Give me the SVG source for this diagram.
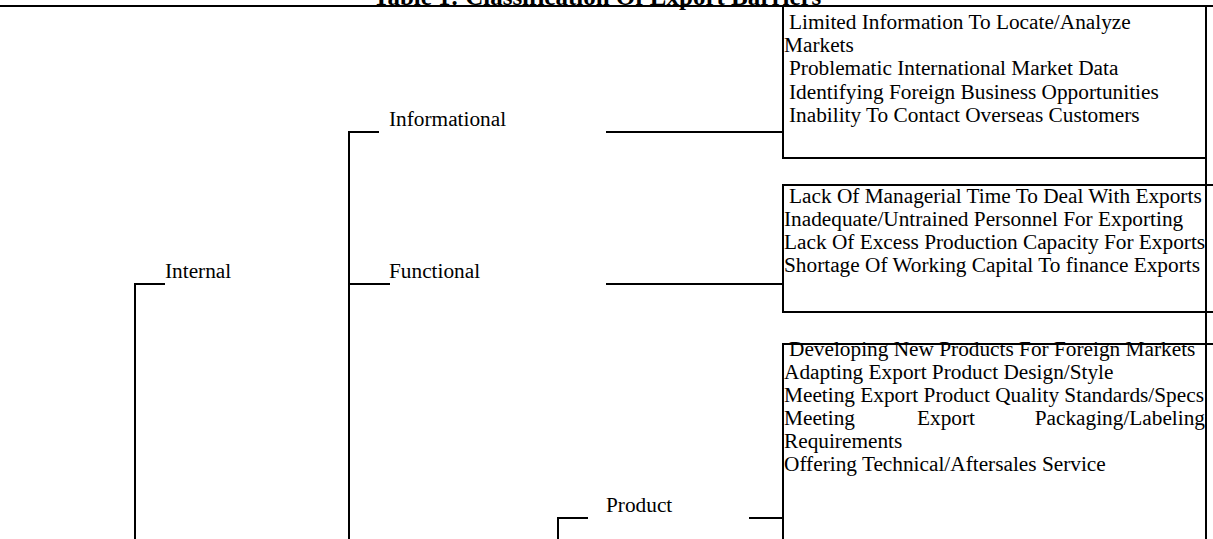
<svg xmlns="http://www.w3.org/2000/svg" width="1213" height="539" viewBox="0 0 1213 539">
<style>
text{font-family:"Liberation Serif","Times New Roman",serif;font-size:21.3px;fill:#000}
.title{font-weight:bold;font-size:25px}
.ln{stroke:#000;stroke-width:2;fill:none}
</style>
<rect width="1213" height="539" fill="#fff"/>
<text class="title" x="373" y="5">Table 1: Classification Of Export Barriers</text>
<g id="connectors">
<line class="ln" x1="0" y1="6" x2="1213" y2="6"/>
<polyline class="ln" points="135,539 135,284 165,284"/>
<polyline class="ln" points="349,539 349,132 379,132"/>
<line class="ln" x1="349" y1="284" x2="390" y2="284"/>
<line class="ln" x1="606" y1="132" x2="783" y2="132"/>
<line class="ln" x1="606" y1="284" x2="783" y2="284"/>
<polyline class="ln" points="558,539 558,518 588,518"/>
<line class="ln" x1="749" y1="518" x2="783" y2="518"/>
</g>
<g id="internal"><text x="165" y="278">Internal</text></g>
<g id="informational"><text x="389" y="126">Informational</text></g>
<g id="functional"><text x="389" y="278">Functional</text></g>
<g id="product"><text x="606" y="512">Product</text></g>
<g id="box-informational">
<polyline class="ln" points="783,6 783,158 1206,158"/>
<text x="789" y="28.5">Limited Information To Locate/Analyze</text>
<text x="784" y="52">Markets</text>
<text x="789" y="75">Problematic International Market Data</text>
<text x="789" y="98.5">Identifying Foreign Business Opportunities</text>
<text x="789" y="122">Inability To Contact Overseas Customers</text>
</g>
<g id="box-functional">
<polyline class="ln" points="1213,185 783,185 783,312 1213,312"/>
<text x="789" y="203">Lack Of Managerial Time To Deal With Exports</text>
<text x="784" y="226">Inadequate/Untrained Personnel For Exporting</text>
<text x="784" y="249">Lack Of Excess Production Capacity For Exports</text>
<text x="784" y="272">Shortage Of Working Capital To finance Exports</text>
</g>
<g id="box-product">
<polyline class="ln" points="783,539 783,344 1213,344"/>
<text x="789" y="356">Developing New Products For Foreign Markets</text>
<text x="784" y="379">Adapting Export Product Design/Style</text>
<text x="784" y="402">Meeting Export Product Quality Standards/Specs</text>
<text x="784" y="425">Meeting</text>
<text x="917" y="425">Export</text>
<text x="1205" y="425" text-anchor="end">Packaging/Labeling</text>
<text x="784" y="448">Requirements</text>
<text x="784" y="471">Offering Technical/Aftersales Service</text>
</g>
<line class="ln" x1="1206" y1="6" x2="1206" y2="539"/>
</svg>
